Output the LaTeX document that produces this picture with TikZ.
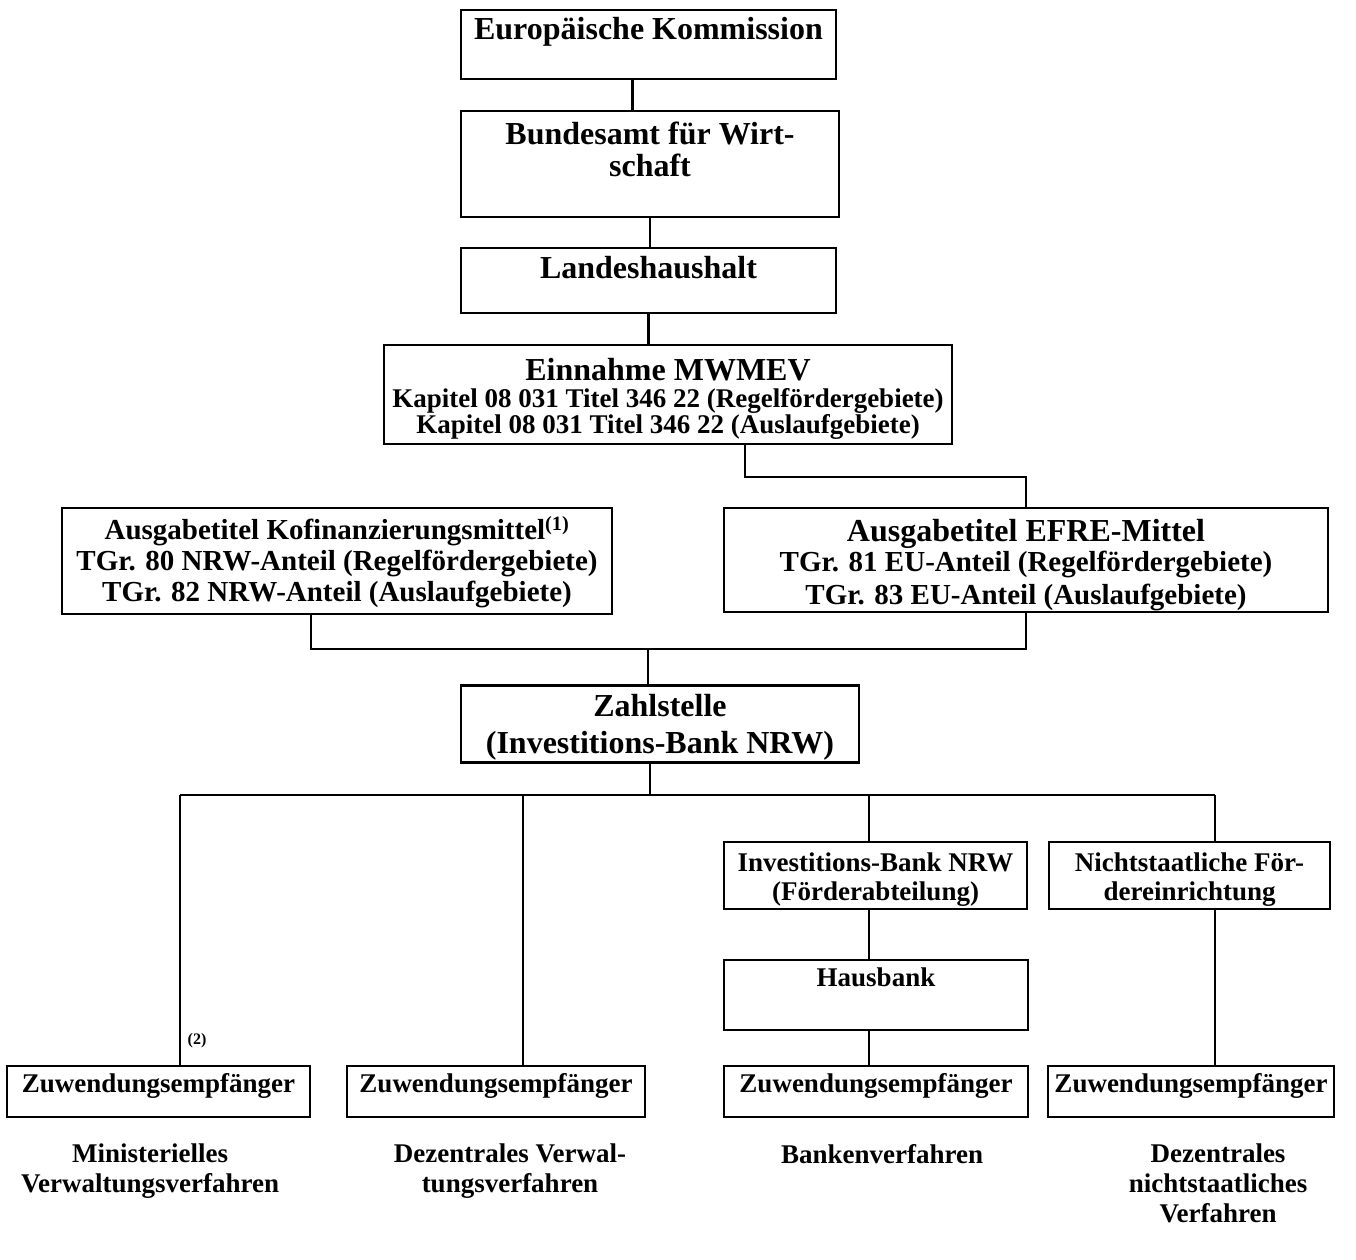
\documentclass[tikz,border=0pt]{standalone}
\usepackage{fontspec}
\setmainfont{Liberation Serif}
\usetikzlibrary{positioning}

\newcommand{\fsHead}{\fontsize{32}{35}\selectfont}
\newcommand{\fsMid}{\fontsize{29}{32}\selectfont}
\newcommand{\fsSmall}{\fontsize{27}{29}\selectfont}
\newcommand{\boxtext}[3]{\parbox[c][#2pt][t]{#1pt}{\centering #3}}

\tikzset{
  box/.style={draw, line width=2.8pt, inner sep=0pt, font=\bfseries},
  link/.style={line width=2.4pt},
  lbl/.style={inner sep=0pt, align=center, anchor=north, font=\bfseries\fsSmall},
}

\begin{document}
\begin{tikzpicture}[x=1pt, y=-1pt]
\useasboundingbox (0,0) rectangle (1356,1259);

% top chain
\node[box] (ek) at (648.5,44.5) {\boxtext{375}{69}{\fsHead\vspace{5pt}\strut Europäische Kommission}};
\node[box] (bund) at (650,164) {\boxtext{378}{106}{\fsHead\vspace{9pt}\strut Bundesamt für Wirt-\\[-3pt]schaft}};
\node[box] (land) at (648.5,280.5) {\boxtext{375}{65}{\fsHead\vspace{6pt}\strut Landeshaushalt}};
\node[box] (ein) at (668,394.5) {\boxtext{568}{99}{\fsHead\vspace{11pt}\strut Einnahme MWMEV\\[-4pt]
  \fsSmall Kapitel 08 031 Titel 346 22 (Regelfördergebiete)\\[-3pt]
  Kapitel 08 031 Titel 346 22 (Auslaufgebiete)}};

% budget titles
\node[box] (kofi) at (337,561) {\boxtext{550}{106}{\fsMid\vspace{8pt}\strut Ausgabetitel Kofinanzierungsmittel\textsuperscript{(1)}\\[-1pt]
  TGr. 80 NRW-Anteil (Regelfördergebiete)\\[-1pt]
  TGr. 82 NRW-Anteil (Auslaufgebiete)}};
\node[box] (efre) at (1026,560) {\boxtext{604}{104}{\fsHead\vspace{9pt}\strut Ausgabetitel EFRE-Mittel\\[-2pt]
  \fsMid TGr. 81 EU-Anteil (Regelfördergebiete)\\[1pt]
  TGr. 83 EU-Anteil (Auslaufgebiete)}};

\node[box] (zahl) at (660,724) {\boxtext{398}{77}{\fsHead\vspace{6pt}\strut Zahlstelle\\[2pt](Investitions-Bank NRW)}};

% procedures
\node[box] (ib) at (875.5,875.5) {\boxtext{303}{67}{\fsSmall\vspace{9pt}\strut Investitions-Bank NRW\\(Förderabteilung)}};
\node[box] (nst) at (1189.5,875.5) {\boxtext{281}{67}{\fsSmall\vspace{9pt}\strut Nichtstaatliche För-\\dereinrichtung}};
\node[box] (haus) at (876,995) {\boxtext{304}{70}{\fsSmall\vspace{6pt}\strut Hausbank}};

\node[box] (zuw1) at (158.5,1091.5) {\boxtext{303}{51}{\fsSmall\vspace{6pt}\strut Zuwendungsempfänger}};
\node[box] (zuw2) at (496,1091.5) {\boxtext{298}{51}{\fsSmall\vspace{6pt}\strut Zuwendungsempfänger}};
\node[box] (zuw3) at (876,1091.5) {\boxtext{304}{51}{\fsSmall\vspace{6pt}\strut Zuwendungsempfänger}};
\node[box] (zuw4) at (1191,1091.5) {\boxtext{286}{51}{\fsSmall\vspace{6pt}\strut Zuwendungsempfänger}};

\node[font=\bfseries\fontsize{16}{18}\selectfont, inner sep=0pt] (fn2) at (197,1041) {(2)};

% procedure names
\node[lbl] (proc1) at (150,1144) {Ministerielles\\[1pt]Verwaltungsverfahren};
\node[lbl] (proc2) at (510,1144) {Dezentrales Verwal-\\[1pt]tungsverfahren};
\node[lbl] (proc3) at (882,1144) {Bankenverfahren};
\node[lbl] (proc4) at (1218,1144) {Dezentrales\\[1pt]nichtstaatliches\\[1pt]Verfahren};

% connectors
\coordinate (einSplit) at (745,477);
\coordinate (kofiDrop) at (311,649);
\coordinate (midBus) at (648,649);
\coordinate (lowBus) at (650,795);
\coordinate (busL) at (180,795);
\coordinate (busM) at (523,795);
\coordinate (busB) at (869,795);
\coordinate (busR) at (1215,795);

\draw[link] ([xshift=-16pt]ek.south) -- ([xshift=-16pt]ek.south |- bund.north);
\draw[link] (bund.south) -- (bund.south |- land.north);
\draw[link] (land.south) -- (land.south |- ein.north);
\draw[link] (einSplit |- ein.south) -- (einSplit) -| (efre.north);
\draw[link] (kofiDrop |- kofi.south) -- (kofiDrop) -| (efre.south);
\draw[link] (midBus) -- (midBus |- zahl.north);
\draw[link] (lowBus |- zahl.south) -- (lowBus);
\draw[link] (busL) -- (busR);
\draw[link] (busL) -- (busL |- zuw1.north);
\draw[link] (busM) -- (busM |- zuw2.north);
\draw[link] (busB) -- (busB |- ib.north);
\draw[link] (busB |- ib.south) -- (busB |- haus.north);
\draw[link] (busB |- haus.south) -- (busB |- zuw3.north);
\draw[link] (busR) -- (busR |- nst.north);
\draw[link] (busR |- nst.south) -- (busR |- zuw4.north);
\end{tikzpicture}
\end{document}
